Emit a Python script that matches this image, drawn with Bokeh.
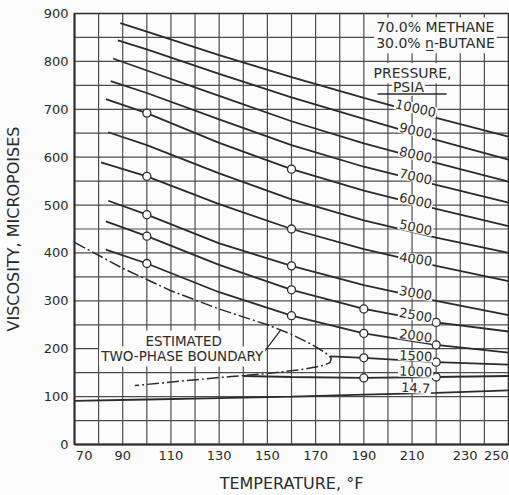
from bokeh.plotting import figure
from bokeh.models import Range1d, FixedTicker, Label
from bokeh.embed import file_html
from bokeh.resources import INLINE

# ---------------- data ----------------
# isobars: temperature (deg F) and viscosity (micropoises)
T_10000 = [89, 100, 130, 160, 190, 220, 250]
V_10000 = [880, 862, 813, 767, 724, 682, 643]
T_9000 = [88, 100, 130, 160, 190, 220, 250]
V_9000 = [844, 825, 774, 725, 680, 636, 595]
T_8000 = [86, 100, 130, 160, 190, 220, 250]
V_8000 = [806, 781, 728, 675, 629, 588, 549]
T_7000 = [85, 100, 130, 160, 190, 220, 250]
V_7000 = [759, 734, 679, 625, 580, 542, 505]
T_6000 = [83, 100, 130, 160, 190, 220, 250]
V_6000 = [721, 692, 630, 575, 530, 492, 456]
T_5000 = [84, 100, 130, 160, 190, 220, 250]
V_5000 = [652, 625, 566, 512, 468, 432, 400]
T_4000 = [81, 100, 130, 160, 190, 220, 250]
V_4000 = [589, 560, 502, 450, 408, 373, 341]
T_3000 = [84, 100, 130, 160, 190, 220, 250]
V_3000 = [509, 480, 420, 373, 333, 300, 270]
T_2500 = [83, 100, 130, 160, 190, 220, 250]
V_2500 = [466, 435, 375, 323, 283, 255, 236]
T_2000 = [83, 100, 130, 160, 190, 220, 250]
V_2000 = [407, 378, 318, 269, 232, 208, 192]
T_1500 = [176, 190, 220, 250]
V_1500 = [184, 181, 172, 167]
T_1000 = [140, 160, 190, 220, 250]
V_1000 = [143, 141, 139, 141, 143]
T_14_7 = [70, 100, 130, 160, 190, 220, 250]
V_14_7 = [91, 94, 97, 100, 104, 108, 113]

# estimated two-phase boundary (dash-dot)
T_bound = [70, 90, 110, 130, 150, 160, 168, 174, 176.5, 176, 173, 165, 150, 135, 115, 95]
V_bound = [422, 368, 321, 283, 250, 230, 210, 192, 180, 171, 165, 157, 148, 142, 133, 123]

# measured points (open circles)
circ_T = [100, 100, 100, 100, 100, 160, 160, 160, 160, 160, 190, 190, 190, 190, 220, 220, 220, 220]
circ_V = [692, 560, 480, 435, 378, 575, 450, 373, 323, 269, 283, 232, 181, 139, 255, 208, 172, 141]

# curve labels
press_labels = ["10000", "9000", "8000", "7000", "6000", "5000", "4000",
                "3000", "2500", "2000", "1500", "1000", "14.7"]
press_label_V = [702, 655, 605, 559, 509, 453, 387, 316, 270, 227, 185, 152, 118]
press_label_angle = [-0.22, -0.22, -0.22, -0.22, -0.22, -0.22, -0.15,
                     -0.17, -0.17, -0.14, -0.06, -0.04, -0.05]

# axes
x_tick_labels = ["70", "90", "110", "130", "150", "170", "190", "210", "230", "250"]
x_tick_pos = [74, 90, 110, 130, 150, 170, 190, 210, 232, 245]
y_ticks = [0, 100, 200, 300, 400, 500, 600, 700, 800, 900]
x_grid = [80, 90, 100, 110, 120, 130, 140, 150, 160, 170, 180, 190, 200,
          210, 220, 230, 240]
y_grid = [50, 100, 150, 200, 250, 300, 350, 400, 450, 500, 550, 600, 650,
          700, 750, 800, 850]

# ---------------- styling ----------------
BG = "#fcfcfc"
INK = "#2b2b2b"
GRID = "#4d4d4d"
FONT = "DejaVu Sans"
X0, X1, Y0, Y1 = 70, 250, 0, 900

p = figure(width=509, height=495, output_backend="svg", toolbar_location=None,
           x_range=Range1d(X0, X1), y_range=Range1d(Y0, Y1),
           min_border_left=74, min_border_right=1, min_border_top=13,
           min_border_bottom=49,
           background_fill_color=BG, border_fill_color=BG)

p.outline_line_color = INK
p.outline_line_width = 1.6
p.grid.visible = False

# grid drawn as glyphs (first, so everything else sits on top)
p.segment(x0=x_grid, y0=[Y0] * len(x_grid), x1=x_grid, y1=[Y1] * len(x_grid),
          line_color=GRID, line_width=1.2)
p.segment(x0=[X0] * len(y_grid), y0=y_grid, x1=[X1] * len(y_grid), y1=y_grid,
          line_color=GRID, line_width=1.2)

p.xaxis.ticker = FixedTicker(ticks=x_tick_pos)
p.xaxis.major_label_overrides = dict(zip(x_tick_pos, x_tick_labels))
p.yaxis.ticker = FixedTicker(ticks=y_ticks)
p.xaxis.axis_label = "TEMPERATURE, °F"
p.yaxis.axis_label = "VISCOSITY, MICROPOISES"
for ax in (p.xaxis, p.yaxis):
    ax.axis_line_color = INK
    ax.axis_line_width = 1.8
    ax.major_tick_in = 0
    ax.major_tick_out = 0
    ax.minor_tick_line_color = None
    ax.major_label_text_font = FONT
    ax.major_label_text_font_size = "13px"
    ax.major_label_text_color = INK
    ax.axis_label_text_font = FONT
    ax.axis_label_text_font_size = "16px"
    ax.axis_label_text_font_style = "normal"
    ax.axis_label_text_color = INK
p.xaxis.major_label_standoff = 6
p.xaxis.axis_label_standoff = 11
p.yaxis.major_label_standoff = 6
p.yaxis.axis_label_standoff = 18

# ---------------- curves ----------------
curves = [(T_10000, V_10000), (T_9000, V_9000), (T_8000, V_8000), (T_7000, V_7000),
          (T_6000, V_6000), (T_5000, V_5000), (T_4000, V_4000), (T_3000, V_3000),
          (T_2500, V_2500), (T_2000, V_2000), (T_1500, V_1500), (T_1000, V_1000),
          (T_14_7, V_14_7)]
for t, v in curves:
    p.line(t, v, line_color=INK, line_width=1.8)

p.line(T_bound, V_bound, line_color=INK, line_width=1.5, line_dash="12 3 2 3")

p.scatter(circ_T, circ_V, marker="circle", size=8, fill_color=BG,
          line_color=INK, line_width=1.3)

# ---------------- annotations ----------------
def add_label(x, y, text, size="13px", angle=0.0, pad=1):
    p.add_layout(Label(x=x, y=y, text=text, text_font=FONT, text_font_size=size,
                       text_color=INK, text_align="center", text_baseline="middle",
                       angle=angle, background_fill_color=BG, padding=pad))

for lab, v, a in zip(press_labels, press_label_V, press_label_angle):
    add_label(211.5, v, lab, "13px", a)

add_label(219.7, 871, "70.0% METHANE", "14px", pad=2)
add_label(219.7, 838, "30.0% n\u0332-BUTANE", "14px", pad=2)
add_label(210.2, 775, "PRESSURE,", "14px", pad=2)
add_label(208.5, 747, "PSIA", "14px", pad=1)
p.segment(x0=[195.7], y0=[732], x1=[224.3], y1=[732], line_color=INK,
          line_width=1.5, level="overlay")

add_label(115.3, 217, "ESTIMATED", "13.5px", pad=2)
add_label(114.7, 184, "TWO-PHASE BOUNDARY", "13.5px", pad=2)
p.segment(x0=[148.6], y0=[193], x1=[155.5], y1=[239], line_color=INK,
          line_width=1.3)

open("out.html", "w").write(file_html(p, INLINE))
